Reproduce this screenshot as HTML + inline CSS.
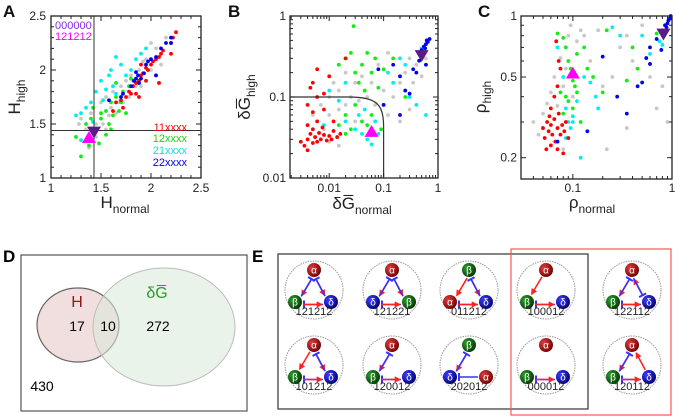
<!DOCTYPE html>
<html><head><meta charset="utf-8"><style>
body{margin:0;background:#fff}
svg{display:block;font-family:"Liberation Sans",Arial,sans-serif}
</style></head><body>
<svg id="fig" width="675" height="418" viewBox="0 0 675 418" xmlns="http://www.w3.org/2000/svg">
<defs>
<radialGradient id="gA" cx="35%" cy="35%" r="70%"><stop offset="0" stop-color="#e04040"/><stop offset="1" stop-color="#700000"/></radialGradient>
<radialGradient id="gB" cx="35%" cy="35%" r="70%"><stop offset="0" stop-color="#30a030"/><stop offset="1" stop-color="#003800"/></radialGradient>
<radialGradient id="gD" cx="35%" cy="35%" r="70%"><stop offset="0" stop-color="#4040ff"/><stop offset="1" stop-color="#000070"/></radialGradient>
<marker id="arr" viewBox="0 0 6 6" refX="5" refY="3" markerWidth="4" markerHeight="4" orient="auto"><path d="M0,0L6,3L0,6z" fill="#f22"/></marker>
<marker id="bar" viewBox="0 0 2 8" refX="1" refY="4" markerWidth="2" markerHeight="5" orient="auto"><rect x="0" y="0" width="2" height="8" fill="#33f"/></marker>
</defs>
<g id="A"></g>
<g id="B"></g>
<g id="C"></g>
<g id="D">
<text x="3" y="262" font-size="17" font-weight="bold">D</text>
<rect x="21" y="255" width="226" height="156" fill="none" stroke="#555" stroke-width="1.2"/>
<ellipse cx="78" cy="325" rx="41" ry="37" fill="#e8c8c8" fill-opacity="0.6" stroke="#666" stroke-width="1.2"/>
<ellipse cx="164" cy="327" rx="71" ry="59" fill="#d8ead8" fill-opacity="0.55" stroke="#bbb" stroke-width="1"/>
<text x="77" y="307" font-size="16" fill="#8b1a1a" text-anchor="middle">H</text>
<text x="157" y="298" font-size="16" fill="#2a9a2a" text-anchor="middle">δG&#x305;</text>
<text x="77" y="331" font-size="14" text-anchor="middle">17</text>
<text x="108" y="331" font-size="14" text-anchor="middle">10</text>
<text x="158" y="331" font-size="14" text-anchor="middle">272</text>
<text x="42" y="391" font-size="14" text-anchor="middle">430</text>
</g>
<g id="E">
<text x="252" y="262" font-size="17" font-weight="bold">E</text>
<rect x="278" y="254" width="310" height="155" fill="none" stroke="#333" stroke-width="1.2"/>
<rect x="511" y="249" width="160" height="166" fill="none" stroke="#f55" stroke-width="1.2"/>
</g>
</svg>
<script>
// ---------- data ----------
const A_red = [[1.62,1.62],[1.65,1.7],[1.7,1.72],[1.75,1.75],[1.78,1.8],[1.8,1.78],[1.82,1.85],[1.85,1.88],[1.88,1.9],[1.9,1.95],[1.92,1.97],[1.95,2.02],[1.97,2.0],[2.0,2.05],[2.02,2.08],[2.05,2.1],[2.08,2.12],[2.1,2.15],[2.12,2.18],[2.2,2.25],[2.22,2.3],[2.25,2.35],[2.2,2.15],[1.9,2.05],[1.95,1.9],[1.85,1.78],[1.72,1.65],[2.05,1.95],[2.08,1.88],[1.88,1.75]];
const A_green = [[1.25,1.38],[1.3,1.2],[1.35,1.5],[1.4,1.55],[1.42,1.65],[1.45,1.45],[1.5,1.55],[1.5,1.6],[1.55,1.62],[1.58,1.5],[1.6,1.7],[1.62,1.58],[1.65,1.75],[1.68,1.62],[1.7,1.7],[1.72,1.8],[1.75,1.6],[1.78,1.85],[1.55,1.4],[1.48,1.32],[1.6,1.45],[1.65,1.88],[1.8,1.92],[1.38,1.3]];
const A_cyan = [[1.25,1.58],[1.3,1.6],[1.35,1.65],[1.4,1.7],[1.42,1.52],[1.45,1.8],[1.5,1.9],[1.55,1.82],[1.58,1.95],[1.6,2.0],[1.62,1.85],[1.65,1.78],[1.7,2.05],[1.75,1.95],[1.8,2.0],[1.85,2.1],[1.9,2.15],[1.95,2.2],[1.65,2.12],[1.3,1.35],[1.4,1.45],[1.52,1.72]];
const A_blue = [[1.58,1.72],[1.72,1.78],[1.8,1.85],[1.83,1.9],[1.85,1.92],[1.87,1.95],[1.88,1.88],[1.9,1.92],[1.93,1.97],[1.95,2.05],[1.97,2.08],[2.0,2.1],[2.05,2.12],[2.1,2.2],[2.15,2.25],[2.2,2.3],[2.2,2.25],[2.05,1.95],[1.7,1.75],[1.85,1.98]];
const A_gray = [[1.3,1.55],[1.35,1.45],[1.4,1.6],[1.45,1.5],[1.5,1.7],[1.52,1.5],[1.55,1.75],[1.6,1.65],[1.62,1.8],[1.65,1.6],[1.7,1.85],[1.72,1.7],[1.75,1.9],[1.78,1.75],[1.8,1.95],[1.85,1.85],[1.88,2.0],[1.9,1.85],[1.95,2.1],[2.0,2.0],[2.05,2.2],[2.1,2.05],[2.15,2.3],[1.38,1.28],[1.45,1.38],[1.58,1.58],[1.68,1.7],[1.82,1.9],[1.92,2.08],[2.0,2.25],[1.28,1.5],[1.55,1.45]];
const A_mark = {up:[1.38,1.37], down:[1.43,1.43], vline:1.43, hline:1.44};
const A_ticks = [1,1.5,2,2.5];
const A_ticklabels = ["1","1.5","2","2.5"];

const B_red = [[0.003,0.028],[0.0035,0.025],[0.004,0.03],[0.0045,0.035],[0.005,0.027],[0.005,0.04],[0.0055,0.032],[0.006,0.028],[0.0065,0.036],[0.007,0.03],[0.0075,0.042],[0.008,0.034],[0.009,0.029],[0.01,0.033],[0.011,0.03],[0.012,0.038],[0.014,0.032],[0.016,0.035],[0.004,0.045],[0.006,0.05],[0.005,0.065],[0.004,0.08],[0.006,0.1],[0.008,0.11],[0.005,0.15],[0.006,0.22],[0.01,0.18],[0.02,0.3],[0.008,0.07],[0.012,0.05],[0.004,0.022],[0.0045,0.13]];
const B_green = [[0.015,0.25],[0.02,0.3],[0.025,0.35],[0.028,0.75],[0.03,0.2],[0.035,0.15],[0.04,0.25],[0.045,0.12],[0.05,0.35],[0.06,0.2],[0.07,0.3],[0.08,0.13],[0.1,0.22],[0.03,0.08],[0.02,0.06],[0.025,0.04],[0.04,0.05],[0.05,0.045],[0.06,0.06],[0.09,0.04],[0.15,0.3],[0.25,0.1],[0.02,0.035],[0.015,0.045]];
const B_cyan = [[0.01,0.12],[0.015,0.09],[0.02,0.05],[0.03,0.04],[0.035,0.06],[0.04,0.035],[0.045,0.07],[0.05,0.03],[0.06,0.026],[0.07,0.05],[0.08,0.035],[0.1,0.08],[0.12,0.2],[0.15,0.15],[0.2,0.3],[0.25,0.25],[0.3,0.1],[0.4,0.08],[0.5,0.4],[0.6,0.06],[0.02,0.15],[0.008,0.045]];
const B_blue = [[0.08,0.22],[0.15,0.25],[0.2,0.18],[0.25,0.12],[0.3,0.11],[0.35,0.22],[0.4,0.2],[0.45,0.28],[0.5,0.38],[0.55,0.42],[0.6,0.45],[0.62,0.5],[0.65,0.48],[0.7,0.52],[0.58,0.4],[0.55,0.35],[0.5,0.3],[0.6,0.25],[0.1,0.08],[0.2,0.06]];
const B_gray = [[0.005,0.06],[0.007,0.08],[0.01,0.1],[0.012,0.15],[0.015,0.12],[0.02,0.2],[0.025,0.1],[0.03,0.15],[0.035,0.09],[0.04,0.18],[0.05,0.1],[0.06,0.15],[0.07,0.08],[0.08,0.25],[0.1,0.12],[0.12,0.06],[0.15,0.1],[0.2,0.15],[0.25,0.2],[0.3,0.3],[0.35,0.15],[0.4,0.25],[0.5,0.18],[0.6,0.3],[0.008,0.04],[0.01,0.06],[0.015,0.07],[0.02,0.08],[0.03,0.05],[0.12,0.35],[0.2,0.05],[0.3,0.07],[0.01,0.028],[0.015,0.025]];
const B_mark = {up:[0.06,0.037], down:[0.5,0.33]};
const B_xticks = [0.01,0.1,1], B_xlabels = ["0.01","0.1","1"];
const B_yticks = [0.01,0.1,1], B_ylabels = ["0.01","0.1","1"];

const C_red = [[0.05,0.28],[0.052,0.25],[0.055,0.3],[0.057,0.27],[0.06,0.23],[0.06,0.29],[0.062,0.26],[0.065,0.31],[0.067,0.24],[0.07,0.28],[0.07,0.22],[0.072,0.33],[0.075,0.26],[0.078,0.29],[0.08,0.21],[0.082,0.27],[0.085,0.3],[0.09,0.25],[0.06,0.35],[0.065,0.4],[0.07,0.45],[0.075,0.55],[0.068,0.75],[0.072,0.6],[0.058,0.32],[0.054,0.22]];
const C_green = [[0.07,0.82],[0.08,0.78],[0.085,0.7],[0.09,0.6],[0.095,0.55],[0.1,0.48],[0.105,0.45],[0.11,0.42],[0.085,0.4],[0.09,0.38],[0.1,0.35],[0.12,0.3],[0.08,0.33],[0.075,0.42],[0.13,0.7],[0.14,0.55],[0.16,0.5],[0.2,0.42],[0.22,0.85],[0.35,0.48],[0.4,0.7],[0.45,0.55],[0.7,0.82],[0.11,0.65]];
const C_cyan = [[0.07,0.7],[0.08,0.5],[0.085,0.35],[0.09,0.3],[0.095,0.28],[0.1,0.32],[0.11,0.38],[0.12,0.2],[0.13,0.5],[0.15,0.47],[0.17,0.4],[0.18,0.35],[0.25,0.88],[0.3,0.8],[0.5,0.8],[0.6,0.65],[0.75,0.75],[0.8,0.72],[0.085,0.25],[0.1,0.3]];
const C_blue = [[0.07,0.24],[0.1,0.52],[0.14,0.27],[0.2,0.63],[0.28,0.4],[0.35,0.33],[0.45,0.45],[0.5,0.47],[0.55,0.62],[0.6,0.7],[0.7,0.77],[0.8,0.85],[0.85,0.9],[0.9,0.92],[0.92,0.95],[0.95,0.97],[0.97,1.0],[0.88,0.88],[0.78,0.68],[0.6,0.58]];
const C_gray = [[0.04,0.3],[0.045,0.26],[0.05,0.33],[0.055,0.37],[0.06,0.42],[0.065,0.5],[0.07,0.36],[0.075,0.62],[0.08,0.45],[0.085,0.55],[0.09,0.8],[0.095,0.9],[0.1,0.4],[0.11,0.75],[0.12,0.85],[0.13,0.8],[0.15,0.6],[0.18,0.85],[0.2,0.45],[0.25,0.5],[0.3,0.7],[0.35,0.8],[0.4,0.6],[0.5,0.9],[0.6,0.5],[0.7,0.35],[0.8,0.45],[0.9,0.3],[0.22,0.22],[0.35,0.28],[0.08,0.22],[0.065,0.24]];
const C_mark = {up:[0.1,0.52], down:[0.82,0.82]};
const C_xticks = [0.1,1], C_xlabels = ["0.1","1"];
const C_yticks = [0.2,0.5,1], C_ylabels = ["0.2","0.5","1"];

const COL = {red:"#f00", green:"#1e1", cyan:"#0ee", blue:"#00e", gray:"#c8c8c8"};
const NS = "http://www.w3.org/2000/svg";
function mk(tag, attrs, parent){ const e=document.createElementNS(NS,tag); for(const k in attrs) e.setAttribute(k,attrs[k]); parent.appendChild(e); return e; }

function linScale(d0,d1,r0,r1){ return v=>r0+(v-d0)/(d1-d0)*(r1-r0); }
function logScale(d0,d1,r0,r1){ return v=>r0+(Math.log10(v)-Math.log10(d0))/(Math.log10(d1)-Math.log10(d0))*(r1-r0); }

function frame(g, x0,y0,x1,y1){
  const r = mk('rect',{x:x0,y:y0,width:x1-x0,height:y1-y0,fill:'none',stroke:'#222','stroke-width':1.3},g);
  
  
}
function tickX(g,x,y0,y1,len){ mk('line',{x1:x,x2:x,y1:y1,y2:y1-len,stroke:'#222','stroke-width':1},g); mk('line',{x1:x,x2:x,y1:y0,y2:y0+len,stroke:'#222','stroke-width':1},g); }
function tickY(g,y,x0,x1,len){ mk('line',{x1:x0,x2:x0+len,y1:y,y2:y,stroke:'#222','stroke-width':1},g); mk('line',{x1:x1,x2:x1-len,y1:y,y2:y,stroke:'#222','stroke-width':1},g); }

function dots(g,data,col,sx,sy,name){
  const gg = mk('g',{},g);
  
  
  data.forEach(p=>{ const c=mk('circle',{cx:sx(p[0]),cy:sy(p[1]),r:1.9,fill:col},gg);
    
     });
}
function tri(g,x,y,up,col,name){
  const s=7; const d = up ? `M${x},${y-s}L${x+s},${y+s*0.7}L${x-s},${y+s*0.7}Z` : `M${x},${y+s}L${x+s},${y-s*0.7}L${x-s},${y-s*0.7}Z`;
  const p=mk('path',{d:d,fill:col},g);
  
  
}
function txt(g,x,y,s,size,anchor,col,name){
  const t=mk('text',{x:x,y:y,'font-size':size,'text-anchor':anchor||'start',fill:col||'#111'},g); t.textContent=s;
  
  
  return t;
}
function title(g,x,y,main,sub,rot,over,name){
  const t=mk('text',{x:x,y:y,'font-size':17,'text-anchor':'middle',fill:'#222'},g);
  if(rot) t.setAttribute('transform',`rotate(-90 ${x} ${y})`);
  
  
  const a=mk('tspan',{},t); a.textContent= over ? 'δG\u0305' : main;
  const s=mk('tspan',{'font-size':12,dy:5},t); s.textContent=sub;
}
function scatterAll(g,sets,sx,sy){
  dots(g,sets.gray,COL.gray,sx,sy,'series-gray');
  dots(g,sets.green,COL.green,sx,sy,'series-12xxxx');
  dots(g,sets.cyan,COL.cyan,sx,sy,'series-21xxxx');
  dots(g,sets.red,COL.red,sx,sy,'series-11xxxx');
  dots(g,sets.blue,COL.blue,sx,sy,'series-22xxxx');
}

// ---------- Panel A ----------
(function(){
  const g=document.getElementById('A');
  const x0=51,x1=201,y0=16,y1=178;
  const sx=linScale(1,2.5,x0,x1), sy=linScale(1,2.5,y1,y0);
  txt(g,3,17,'A',17,'start','#111','panel-label-a').setAttribute('font-weight','bold');
  scatterAll(g,{gray:A_gray,green:A_green,cyan:A_cyan,red:A_red,blue:A_blue},sx,sy);
  mk('line',{x1:sx(A_mark.vline),x2:sx(A_mark.vline),y1:y0,y2:y1,stroke:'#333','stroke-width':1},g);
  mk('line',{x1:x0,x2:x1,y1:sy(A_mark.hline),y2:sy(A_mark.hline),stroke:'#333','stroke-width':1},g);
  tri(g,sx(A_mark.up[0]),sy(A_mark.up[1]),true,'#f0f','marker-121212');
  tri(g,sx(A_mark.down[0]),sy(A_mark.down[1]),false,'#5a1a8a','marker-000000');
  frame(g,x0,y0,x1,y1);
  for(let v=1;v<=2.5001;v+=0.1){ const maj=Math.abs(v*2-Math.round(v*2))<1e-6; tickX(g,sx(v),y0,y1,maj?5:3); tickY(g,sy(v),x0,x1,maj?5:3); }
  A_ticks.forEach((v,i)=>{ txt(g,sx(v),192,A_ticklabels[i],12,'middle','#222','x-tick-label'); txt(g,x0-5,sy(v)+4,A_ticklabels[i],12,'end','#222','y-tick-label'); });
  title(g,125,208,'H','normal',false,false,'x-axis-title');
  title(g,20,97,'H','high',true,false,'y-axis-title');
  txt(g,55,29,'000000',11,'start','#8a2be2','legend-000000');
  txt(g,55,40,'121212',11,'start','#f0f','legend-121212');
  txt(g,187,131,'11xxxx',11,'end','#f00','legend-11xxxx');
  txt(g,187,142,'12xxxx',11,'end','#2c2','legend-12xxxx');
  txt(g,187,154,'21xxxx',11,'end','#1dd','legend-21xxxx');
  txt(g,187,166,'22xxxx',11,'end','#00e','legend-22xxxx');
})();

// ---------- Panel B ----------
(function(){
  const g=document.getElementById('B');
  const x0=290,x1=438,y0=16,y1=178;
  const sx=logScale(0.0019,1,x0,x1), sy=logScale(0.01,1,y1,y0);
  txt(g,228,17,'B',17,'start','#111','panel-label-b').setAttribute('font-weight','bold');
  scatterAll(g,{gray:B_gray,green:B_green,cyan:B_cyan,red:B_red,blue:B_blue},sx,sy);
  const cx=sx(0.1), cy=sy(0.1);
  const th=mk('path',{d:`M${x0},${cy}L${cx-35},${cy}C${cx-8},${cy} ${cx},${cy+6} ${cx},${cy+30}L${cx},${y1}`,fill:'none',stroke:'#333','stroke-width':1.2},g);
  
  
  tri(g,sx(B_mark.up[0]),sy(B_mark.up[1]),true,'#f0f','marker-121212');
  tri(g,sx(B_mark.down[0]),sy(B_mark.down[1]),false,'#5a1a8a','marker-000000');
  frame(g,x0,y0,x1,y1);
  [0.001,0.01,0.1].forEach(d=>{ for(let k=1;k<10;k++){ const v=d*k; if(v>=0.0019&&v<=1) tickX(g,sx(v),y0,y1,k==1?5:3);} });
  tickX(g,sx(1),y0,y1,5);
  [0.01,0.1].forEach(d=>{ for(let k=1;k<10;k++) tickY(g,sy(d*k),x0,x1,k==1?5:3); });
  B_xticks.forEach((v,i)=>txt(g,sx(v),192,B_xlabels[i],12,'middle','#222','x-tick-label'));
  B_yticks.forEach((v,i)=>txt(g,x0-4,sy(v)+4,B_ylabels[i],12,'end','#222','y-tick-label'));
  title(g,362,209,'','normal',false,true,'x-axis-title');
  title(g,250,97,'','high',true,true,'y-axis-title');
})();

// ---------- Panel C ----------
(function(){
  const g=document.getElementById('C');
  const x0=521,x1=672,y0=16,y1=179;
  const sx=logScale(0.03,1,x0,x1), sy=logScale(0.157,1,y1,y0);
  txt(g,478,17,'C',17,'start','#111','panel-label-c').setAttribute('font-weight','bold');
  scatterAll(g,{gray:C_gray,green:C_green,cyan:C_cyan,red:C_red,blue:C_blue},sx,sy);
  tri(g,sx(C_mark.up[0]),sy(C_mark.up[1]),true,'#f0f','marker-121212');
  tri(g,sx(C_mark.down[0]),sy(C_mark.down[1]),false,'#5a1a8a','marker-000000');
  frame(g,x0,y0,x1,y1);
  [0.01,0.1].forEach(d=>{ for(let k=1;k<10;k++){ const v=d*k; if(v>=0.03&&v<=1) tickX(g,sx(v),y0,y1,k==1?5:3);} });
  tickX(g,sx(1),y0,y1,5);
  [0.2,0.3,0.4,0.5,0.6,0.7,0.8,0.9,1].forEach(v=>tickY(g,sy(v),x0,x1,(v==0.2||v==0.5||v==1)?5:3));
  C_xticks.forEach((v,i)=>txt(g,sx(v),192,C_xlabels[i],12,'middle','#222','x-tick-label'));
  C_yticks.forEach((v,i)=>txt(g,x0-4,sy(v)+4,C_ylabels[i],12,'end','#222','y-tick-label'));
  title(g,592,208,'ρ','normal',false,false,'x-axis-title');
  title(g,486,97,'ρ','high',true,false,'y-axis-title');
})();

// ---------- Panel E motifs ----------
(function(){
  const g=document.getElementById('E');
  const GR={'α':'url(#gA)','β':'url(#gB)','δ':'url(#gD)'};
  const motifs=[
    [314,290,'121212',['α','β','δ'],[['t','l','r',-2.5],['l','t','b',2.5],['t','r','r',2.5],['r','t','b',-2.5],['r','l','b',-2.5],['l','r','r',2.5]]],
    [392,290,'121221',['α','δ','β'],[['t','l','r',-2.5],['l','t','b',2.5],['t','r','r',2.5],['r','t','b',-2.5],['r','l','b',-2.5],['l','r','r',2.5]]],
    [469,290,'011212',['β','α','δ'],[['t','l','r',-2.5],['t','r','r',2.5],['r','t','b',-2.5],['r','l','b',-2.5],['l','r','r',2.5]]],
    [546,290,'100012',['α','β','δ'],[['t','l','r',0],['r','l','b',-2.5],['l','r','r',2.5]]],
    [632,290,'122112',['α','β','δ'],[['t','l','r',-2.5],['l','t','b',2.5],['r','t','r',-2.5],['t','r','b',2.5],['r','l','b',-2.5],['l','r','r',2.5]]],
    [314,365,'101212',['α','β','δ'],[['t','l','r',0],['t','r','r',2.5],['r','t','b',-2.5],['r','l','b',-2.5],['l','r','r',2.5]]],
    [392,365,'120012',['α','β','δ'],[['t','l','r',-2.5],['l','t','b',2.5],['r','l','b',-2.5],['l','r','r',2.5]]],
    [469,365,'202012',['β','δ','α'],[['t','l','r',-2.5],['l','t','b',2.5],['r','l','b',0]]],
    [546,365,'000012',['α','β','δ'],[['r','l','b',-2.5],['l','r','r',2.5]]],
    [632,365,'120112',['α','β','δ'],[['t','l','r',-2.5],['l','t','b',2.5],['r','t','r',0],['r','l','b',-2.5],['l','r','r',2.5]]]
  ];
  motifs.forEach(m=>{
    const [cx,cy,lab,nd,ed]=m;
    const gg=mk('g',{},g);
    
    
    mk('circle',{cx:cx,cy:cy,r:29,fill:'#fff',stroke:'#999','stroke-width':1,'stroke-dasharray':'1.5 1'},gg);
    const P={t:[cx,cy-20],l:[cx-19,cy+12],r:[cx+17,cy+12]};
    ed.forEach(e=>{
      const a=P[e[0]],b=P[e[1]];const dx=b[0]-a[0],dy=b[1]-a[1],L=Math.hypot(dx,dy),ux=dx/L,uy=dy/L,nx=-uy,ny=ux,o=e[3];
      const red=e[2]=='r';
      mk('line',{x1:a[0]+ux*8+nx*o,y1:a[1]+uy*8+ny*o,x2:b[0]-ux*9+nx*o,y2:b[1]-uy*9+ny*o,stroke:red?'#f22':'#33f','stroke-width':1.6,'marker-end':red?'url(#arr)':'url(#bar)'},gg);
    });
    const keys=['t','l','r'];
    keys.forEach((k,i)=>{
      mk('circle',{cx:P[k][0],cy:P[k][1],r:7,fill:GR[nd[i]]},gg);
      const t=mk('text',{x:P[k][0],y:P[k][1]+3.5,'font-size':10,'text-anchor':'middle',fill:'#fff'},gg); t.textContent=nd[i];
    });
    const t=mk('text',{x:cx,y:cy+25,'font-size':11,'text-anchor':'middle',fill:'#222'},gg); t.textContent=lab;
    
    
  });
})();
</script>
</body></html>
